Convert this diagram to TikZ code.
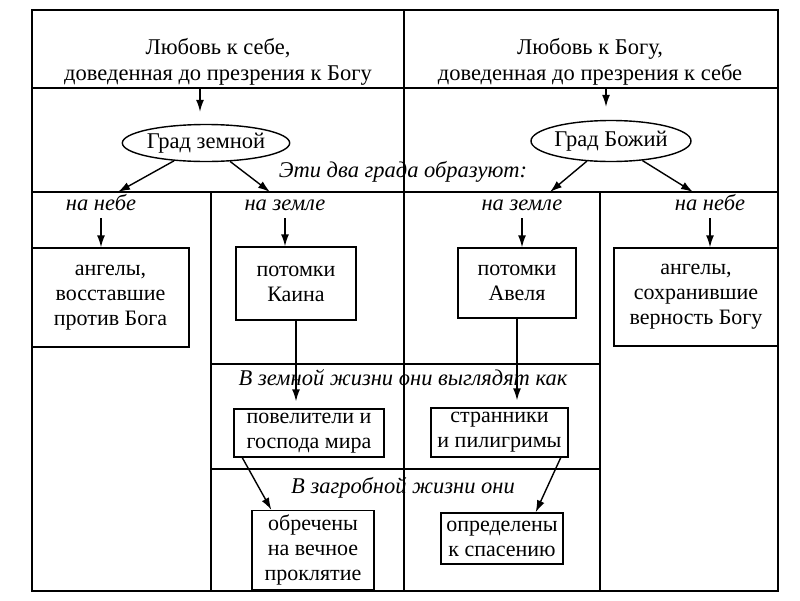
\documentclass[tikz,border=0pt]{standalone}
\usepackage{fontspec}
\setmainfont{Liberation Serif}
\usetikzlibrary{arrows.meta,positioning,shapes.geometric}

\begin{document}
\begin{tikzpicture}[x=1pt,y=-1pt,
   grid/.style={line width=1.5pt},
   box/.style={draw,line width=1.4pt,align=center,inner sep=0pt,
     font=\fontsize{22}{25}\selectfont},
   lowtext/.style={execute at begin node=\vphantom{Б}},
   city/.style={draw,ellipse,line width=1.4pt,inner sep=0pt,
     font=\fontsize{22.5}{25}\selectfont},
   head/.style={align=center,font=\fontsize{22.5}{26}\selectfont},
   lbl/.style={font=\itshape\fontsize{22.5}{25}\selectfont,inner sep=1pt,anchor=base},
   arr/.style={-{Latex[length=12pt,width=8pt]},line width=1.4pt}]
  \useasboundingbox (0,0) rectangle (800,600);
  % table frame
  \draw[grid] (32,10) rectangle (778,591);
  \draw[grid] (32,88) -- (778,88);
  \draw[grid] (32,192) -- (778,192);
  \draw[grid] (404,10) -- (404,591);
  \draw[grid] (211,192) -- (211,591);
  \draw[grid] (600,192) -- (600,591);
  \draw[grid] (211,364) -- (600,364);
  \draw[grid] (211,469) -- (600,469);
  % headers and the two cities
  \node[head] (selfl) at (218,62) {Любовь к себе,\\доведенная до презрения к Богу};
  \node[head] (godl) at (590,62) {Любовь к Богу,\\доведенная до презрения к себе};
  \coordinate (hL) at (200,88);
  \coordinate (hR) at (606,88);
  \node[city,minimum width=142pt,minimum height=37pt] (zem) at (206,143) {Град земной};
  \node[city,minimum width=145pt,minimum height=41pt] (bog) at (611,141) {Град Божий};
  \draw[arr,shorten >=12pt] (hL) -- (hL |- zem.north);
  \draw[arr,shorten >=13pt] (hR) -- (hR |- bog.north);
  \node[lbl] (form) at (403,177) {Эти два града образуют:};
  \coordinate (zl) at (118,192);
  \coordinate (zr) at (270,192);
  \coordinate (bl) at (550,192);
  \coordinate (br) at (693,192);
  \draw[arr] (zem) -- (zl);
  \draw[arr] (zem) -- (zr);
  \draw[arr] (bog) -- (bl);
  \draw[arr] (bog) -- (br);
  % columns
  \node[lbl] (nebL) at (101,210) {на небе};
  \node[lbl] (zemL) at (285,210) {на земле};
  \node[lbl] (zemR) at (522,210) {на земле};
  \node[lbl] (nebR) at (710,210) {на небе};
  \node[box,minimum width=157pt,minimum height=99pt] (angfall) at (110.5,297.5)
    {ангелы,\\восставшие\\против Бога};
  \node[box,minimum width=120pt,minimum height=73pt] (kain) at (296,283.5)
    {потомки\\Каина};
  \node[box,minimum width=118pt,minimum height=70pt] (abel) at (517,283)
    {потомки\\Авеля};
  \node[box,minimum width=164pt,minimum height=98pt] (angtrue) at (696,297)
    {ангелы,\\сохранившие\\верность Богу};
  \draw[arr] ([yshift=-8pt]nebL.base) -- (nebL.base |- angfall.north);
  \draw[arr] ([yshift=-8pt]zemL.base) -- (zemL.base |- kain.north);
  \draw[arr] ([yshift=-8pt]zemR.base) -- (zemR.base |- abel.north);
  \draw[arr] ([yshift=-8pt]nebR.base) -- (nebR.base |- angtrue.north);
  % earthly life
  \node[lbl] (earth) at (403,385) {В земной жизни они выглядят как};
  \node[box,lowtext,minimum width=150pt,minimum height=48pt] (rulers) at (309,433)
    {повелители и\\господа мира};
  \node[box,lowtext,minimum width=137pt,minimum height=49pt] (pilgr) at (499.5,432.5)
    {странники\\и пилигримы};
  \draw[arr,shorten >=7pt] (kain.south) -- (kain.south |- rulers.north);
  \draw[arr,shorten >=7pt] (abel.south) -- (abel.south |- pilgr.north);
  % afterlife
  \node[lbl] (after) at (403,493) {В загробной жизни они};
  \node[box,minimum width=122pt,minimum height=79pt] (doomed) at (313,550)
    {обречены\\на вечное\\проклятие};
  \node[box,lowtext,minimum width=122pt,minimum height=51pt] (saved) at (502,538.5)
    {определены\\к спасению};
  \draw[arr] ([xshift=9pt]rulers.south west) -- ([xshift=20pt]doomed.north west);
  \draw[arr] ([xshift=-8pt]pilgr.south east) -- ([xshift=-28pt]saved.north east);
\end{tikzpicture}
\end{document}
